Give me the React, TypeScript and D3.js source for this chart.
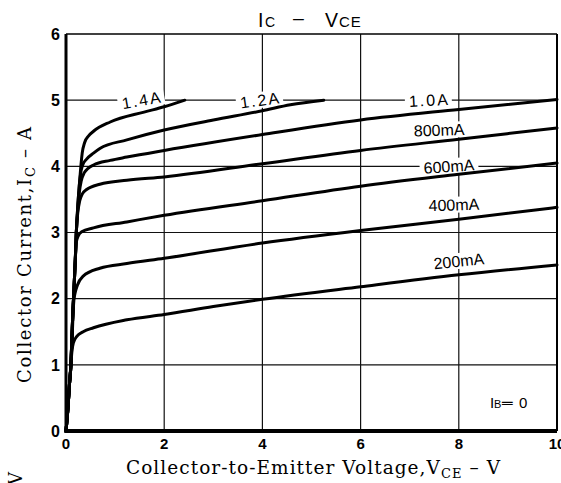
import React from 'react';
import * as d3 from 'd3';

const W = 561;
const H = 483;

// Axis ticks
const xTicks = [0, 2, 4, 6, 8, 10];
const yTicks = [0, 1, 2, 3, 4, 5, 6];

// Base-current series labels
const seriesLabels = ['200mA', '400mA', '600mA', '800mA', '1.0A', '1.2A', '1.4A'];

// IC (A) vs VCE (V) for each base current
const ib200: [number, number][] = [
  [0, 0], [0.04, 0.35], [0.07, 0.7], [0.1, 1.0], [0.12, 1.2], [0.15, 1.33], [0.22, 1.43],
  [0.35, 1.5], [0.56, 1.56], [1.24, 1.68], [2, 1.76], [3, 1.88], [4, 1.99], [6, 2.18], [8, 2.36], [10, 2.51],
];
const ib400: [number, number][] = [
  [0, 0], [0.04, 0.35], [0.07, 0.7], [0.1, 1.0], [0.12, 1.3], [0.14, 1.7], [0.16, 1.97], [0.19, 2.1],
  [0.23, 2.2], [0.35, 2.34], [0.69, 2.46], [1.24, 2.53], [2, 2.61], [4, 2.84], [6, 3.03], [8, 3.2], [10, 3.38],
];
const ib600: [number, number][] = [
  [0, 0], [0.04, 0.35], [0.07, 0.7], [0.1, 1.0], [0.12, 1.4], [0.14, 1.8], [0.16, 2.1], [0.19, 2.6],
  [0.21, 2.85], [0.25, 2.95], [0.32, 3.01], [0.56, 3.07], [1.24, 3.16], [2, 3.26], [4, 3.48], [6, 3.7], [8, 3.88], [10, 4.05],
];
const ib800: [number, number][] = [
  [0, 0], [0.04, 0.35], [0.07, 0.7], [0.1, 1.0], [0.12, 1.4], [0.14, 1.8], [0.16, 2.1], [0.19, 2.6],
  [0.21, 3.0], [0.24, 3.3], [0.28, 3.48], [0.33, 3.58], [0.42, 3.65], [0.69, 3.73], [1.24, 3.79],
  [2, 3.84], [4, 4.04], [6, 4.24], [8, 4.41], [10, 4.58],
];
const ib1000: [number, number][] = [
  [0, 0], [0.04, 0.35], [0.07, 0.7], [0.1, 1.0], [0.12, 1.4], [0.14, 1.8], [0.16, 2.1], [0.19, 2.6],
  [0.21, 3.0], [0.24, 3.35], [0.27, 3.6], [0.31, 3.78], [0.37, 3.9], [0.45, 3.97], [0.56, 4.02], [0.9, 4.09],
  [1.24, 4.14], [2, 4.24], [4, 4.48], [6, 4.7], [8, 4.86], [10, 5.01],
];
const ib1200: [number, number][] = [
  [0, 0], [0.04, 0.35], [0.07, 0.7], [0.1, 1.0], [0.12, 1.4], [0.14, 1.8], [0.16, 2.1], [0.19, 2.6],
  [0.21, 3.0], [0.24, 3.4], [0.27, 3.7], [0.3, 3.9], [0.34, 4.02], [0.42, 4.11], [0.56, 4.2], [0.69, 4.27],
  [1.24, 4.4], [2, 4.55], [3, 4.7], [4, 4.84], [4.57, 4.93], [5.25, 5.0],
];
const ib1400: [number, number][] = [
  [0, 0], [0.04, 0.35], [0.07, 0.7], [0.1, 1.0], [0.12, 1.4], [0.14, 1.8], [0.16, 2.1], [0.19, 2.6],
  [0.21, 3.0], [0.24, 3.4], [0.27, 3.7], [0.3, 3.98], [0.33, 4.2], [0.38, 4.36], [0.46, 4.46], [0.56, 4.53],
  [0.9, 4.67], [1.59, 4.82], [2, 4.9], [2.42, 5.0],
];

const seriesData = [ib200, ib400, ib600, ib800, ib1000, ib1200, ib1400];

// Label placement (position in data units, rotation, letter spacing)
const labelLayout = [
  { v: 8.0, i: 2.57, rot: -6, ls: 0 },
  { v: 7.9, i: 3.42, rot: -2, ls: 0 },
  { v: 7.8, i: 4.0, rot: -4, ls: 0 },
  { v: 7.6, i: 4.55, rot: -2, ls: 0 },
  { v: 7.38, i: 5.0, rot: -3, ls: 2 },
  { v: 3.94, i: 5.0, rot: -8, ls: 2 },
  { v: 1.53, i: 5.0, rot: -10, ls: 2 },
];

const charW: Record<string, number> = { '0': 0.556, '1': 0.556, '2': 0.556, '4': 0.556, '6': 0.556, '8': 0.556, '.': 0.278, m: 0.833, A: 0.667 };
const LABEL_FS = 16;
function labelWidth(s: string, ls: number) {
  let w = 0;
  for (const c of s) w += (charW[c] ?? 0.556) * LABEL_FS + ls;
  return w - ls;
}

export default function App() {
  const x = d3.scaleLinear().domain([0, 10]).range([66, 557]);
  const y = d3.scaleLinear().domain([0, 6]).range([431, 34]);
  const line = d3
    .line<[number, number]>()
    .x((d) => x(d[0]))
    .y((d) => y(d[1]))
    .curve(d3.curveMonotoneX);

  const sans = "'Liberation Sans', Arial, sans-serif";
  const serif = "'DejaVu Serif', 'Liberation Serif', serif";

  return (
    <svg
      width={W}
      height={H}
      viewBox={`0 0 ${W} ${H}`}
      style={{ position: 'absolute', left: 0, top: 0, background: '#fff' }}
    >
      <rect x={0} y={0} width={W} height={H} fill="#fff" />

      {/* Title */}
      <g fontFamily={sans} fill="#000">
        <text x={258} y={27} fontSize={19.5}>I</text>
        <text x={265} y={27} fontSize={14}>C</text>
        <text x={293} y={25} fontSize={19.5}>–</text>
        <text x={325} y={27} fontSize={19.5}>V</text>
        <text x={339} y={27} fontSize={15} letterSpacing={1}>CE</text>
      </g>

      {/* Grid */}
      <g stroke="#111" strokeWidth={1.2}>
        {yTicks.slice(1, -1).map((t) => (
          <line key={'h' + t} x1={x(0)} x2={x(10)} y1={y(t)} y2={y(t)} />
        ))}
        {xTicks.slice(1, -1).map((t) => (
          <line key={'v' + t} x1={x(t)} x2={x(t)} y1={y(6)} y2={y(0)} />
        ))}
      </g>
      {/* Frame */}
      <line x1={x(0)} x2={x(10)} y1={y(6)} y2={y(6)} stroke="#000" strokeWidth={1.6} />
      <line x1={x(10)} x2={x(10)} y1={y(6)} y2={y(0)} stroke="#000" strokeWidth={2} />

      {/* Gaps in grid behind labels */}
      <g fill="#fff">
        {seriesLabels.map((lab, k) => {
          const L = labelLayout[k];
          const w = labelWidth(lab, L.ls) + 8;
          return (
            <rect
              key={'gap' + lab}
              x={-w / 2}
              y={-8}
              width={w}
              height={16}
              transform={`translate(${x(L.v)},${y(L.i)}) rotate(${L.rot})`}
            />
          );
        })}
        <rect x={486} y={395} width={50} height={16} />
      </g>

      {/* Curves */}
      <g fill="none" stroke="#000" strokeWidth={3} strokeLinejoin="round" strokeLinecap="round">
        {seriesData.map((s, k) => (
          <path key={'c' + k} d={line(s) || ''} />
        ))}
      </g>

      {/* Axes */}
      <line x1={x(0)} x2={x(0)} y1={y(6)} y2={y(0) + 2} stroke="#000" strokeWidth={3} />
      <line x1={x(0) - 1.5} x2={x(10)} y1={y(0)} y2={y(0)} stroke="#000" strokeWidth={4} />

      {/* Curve labels */}
      <g fontFamily={sans} fontSize={LABEL_FS} fill="#000">
        {seriesLabels.map((lab, k) => {
          const L = labelLayout[k];
          const w = labelWidth(lab, L.ls);
          return (
            <text
              key={'lab' + lab}
              x={-w / 2}
              transform={`translate(${x(L.v)},${y(L.i)}) rotate(${L.rot})`}
              dy="0.36em"
              letterSpacing={L.ls}
            >
              {lab}
            </text>
          );
        })}
      </g>
      <g fontFamily={sans} fill="#000">
        <text x={490} y={408} fontSize={15}>I</text>
        <text x={494} y={408} fontSize={11}>B</text>
        <text x={502} y={408} fontSize={15}>═</text>
        <text x={519} y={408} fontSize={15}>0</text>
      </g>

      {/* Tick labels */}
      <g fontFamily={sans} fontWeight="bold" fill="#000">
        {yTicks.map((t) => (
          <text key={'yt' + t} x={60} y={y(t)} dy="0.36em" textAnchor="end" fontSize={16}>
            {t}
          </text>
        ))}
        {xTicks.map((t) => (
          <text key={'xt' + t} x={x(t)} y={449} textAnchor="middle" fontSize={15}>
            {t}
          </text>
        ))}
      </g>

      {/* Axis titles */}
      <text
        transform={`translate(31,255) rotate(-90)`}
        textAnchor="middle"
        fontFamily={serif}
        fontSize={18}
        fill="#000"
        textLength={256}
      >
        Collector Current,I<tspan fontSize={13} dy={4}>C</tspan>
        <tspan dy={-4}> – A</tspan>
      </text>
      <text
        x={126}
        y={474}
        fontFamily={serif}
        fontSize={18.5}
        fill="#000"
        textLength={374}
      >
        Collector-to-Emitter Voltage,V<tspan fontSize={13} dy={4}>CE</tspan>
        <tspan dy={-4}> – V</tspan>
      </text>
      <text transform="translate(22,485) rotate(-90)" fontFamily={serif} fontSize={18} fill="#000">
        V
      </text>
    </svg>
  );
}
